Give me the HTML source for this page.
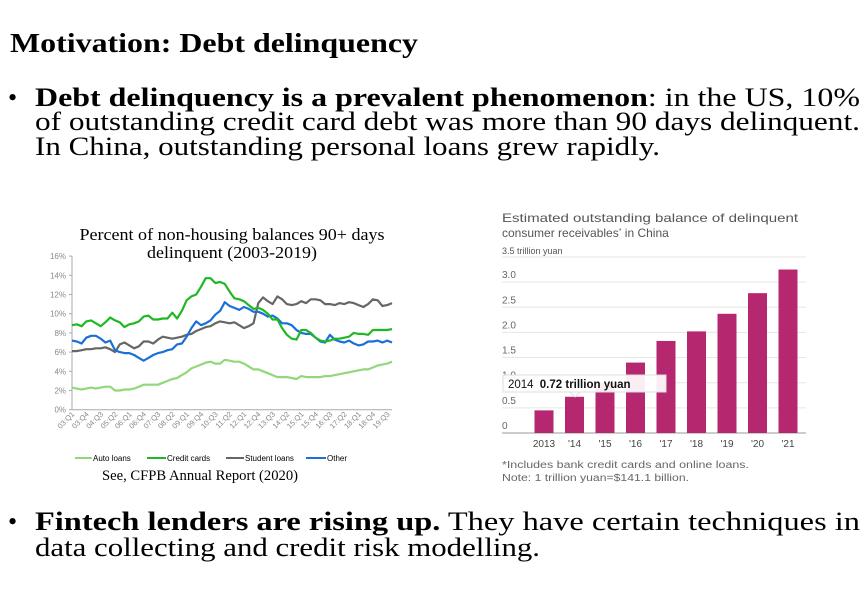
<!DOCTYPE html>
<html><head><meta charset="utf-8"><style>
html,body{margin:0;padding:0;background:#fff;}
svg{display:block;}
.ser{font-family:"Liberation Serif",serif;}
.san{font-family:"Liberation Sans",sans-serif;}
</style></head><body>
<svg id="s" width="865" height="600" xmlns="http://www.w3.org/2000/svg">
<text class="ser" x="10" y="52" font-size="27" font-weight="bold" textLength="408" lengthAdjust="spacingAndGlyphs">Motivation: Debt delinquency</text>
<text class="ser" x="8" y="106" font-size="26">•</text>
<text class="ser" x="35" y="106" font-size="26" textLength="825" lengthAdjust="spacingAndGlyphs"><tspan font-weight="bold">Debt delinquency is a prevalent phenomenon</tspan>: in the US, 10%</text>
<text class="ser" x="35" y="130" font-size="26" textLength="825" lengthAdjust="spacingAndGlyphs">of outstanding credit card debt was more than 90 days delinquent.</text>
<text class="ser" x="35" y="155" font-size="26" textLength="625" lengthAdjust="spacingAndGlyphs">In China, outstanding personal loans grew rapidly.</text>
<text class="ser" x="8" y="530" font-size="26">•</text>
<text class="ser" x="35" y="530" font-size="26" textLength="825" lengthAdjust="spacingAndGlyphs"><tspan font-weight="bold">Fintech lenders are rising up.</tspan> They have certain techniques in</text>
<text class="ser" x="35" y="556" font-size="26" textLength="505" lengthAdjust="spacingAndGlyphs">data collecting and credit risk modelling.</text>

<!-- left chart -->
<text class="ser" x="232" y="240" font-size="17" text-anchor="middle" textLength="305" lengthAdjust="spacingAndGlyphs">Percent of non-housing balances 90+ days</text>
<text class="ser" x="232" y="258" font-size="17" text-anchor="middle" textLength="170" lengthAdjust="spacingAndGlyphs">delinquent (2003-2019)</text>
<g id="lg"></g>
<g class="san" font-size="8">
<line x1="75" y1="458" x2="92" y2="458" stroke="#92d77a" stroke-width="2"/><text x="93" y="461">Auto loans</text>
<line x1="147" y1="458" x2="166" y2="458" stroke="#1fb824" stroke-width="2"/><text x="167" y="461">Credit cards</text>
<line x1="226" y1="458" x2="244" y2="458" stroke="#666" stroke-width="2"/><text x="245" y="461">Student loans</text>
<line x1="306" y1="458" x2="326" y2="458" stroke="#1a6fd8" stroke-width="2"/><text x="327" y="461">Other</text>
</g>
<text class="ser" x="200" y="480" font-size="15" text-anchor="middle" textLength="196" lengthAdjust="spacingAndGlyphs">See, CFPB Annual Report (2020)</text>

<!-- right chart -->
<text class="san" x="502" y="222" font-size="12" fill="#555" textLength="296" lengthAdjust="spacingAndGlyphs">Estimated outstanding balance of delinquent</text>
<text class="san" x="502" y="237" font-size="12" fill="#555">consumer receivables<tspan font-size="7" dy="-4">*</tspan><tspan dy="4"> in China</tspan></text>
<g id="rg"></g>
<text class="san" x="502" y="468" font-size="10" fill="#666" textLength="247" lengthAdjust="spacingAndGlyphs">*Includes bank credit cards and online loans.</text>
<text class="san" x="502" y="481" font-size="10" fill="#666" textLength="187" lengthAdjust="spacingAndGlyphs">Note: 1 trillion yuan=$141.1 billion.</text>
</svg>
<script>
var NS="http://www.w3.org/2000/svg";
function el(p,t,a,txt){var e=document.createElementNS(NS,t);for(var k in a)e.setAttribute(k,a[k]);if(txt!=null)e.textContent=txt;p.appendChild(e);return e;}
var lg=document.getElementById("lg");
var x0=72,x1=392,y0=409.7,ppu=9.6;
for(var v=0;v<=16;v+=2){var y=y0-v*ppu;el(lg,"text",{x:66,y:y+3,"font-size":8,fill:"#888","text-anchor":"end","font-family":"Liberation Sans"},v+"%");el(lg,"line",{x1:69,x2:72,y1:y,y2:y,stroke:"#aaa"});}
el(lg,"line",{x1:72,x2:72,y1:256,y2:y0,stroke:"#aaa"});
el(lg,"line",{x1:72,x2:392,y1:y0,y2:y0,stroke:"#aaa"});
var yrs=["03","04","05","06","07","08","09","10","11","12","13","14","15","16","17","18","19"];
var labs=[];for(var i=0;i<68;i+=3){labs.push([i,yrs[Math.floor(i/4)]+":Q"+(i%4+1)]);}
function X(i){return x0+i*(x1-x0)/67;}
labs.forEach(function(l){var x=X(l[0])+3,y=y0+5;el(lg,"text",{x:x,y:y,"font-size":7.5,fill:"#888","text-anchor":"end","font-family":"Liberation Sans",transform:"rotate(-45 "+x+" "+y+")"},l[1]);});
var S={
auto:[2.3,2.2,2.1,2.2,2.3,2.2,2.3,2.4,2.4,2.0,2.0,2.1,2.1,2.2,2.4,2.6,2.6,2.6,2.6,2.8,3.0,3.2,3.3,3.6,3.9,4.3,4.5,4.7,4.9,5.0,4.8,4.8,5.2,5.1,5.0,5.0,4.8,4.5,4.2,4.2,4.0,3.8,3.6,3.4,3.4,3.4,3.3,3.2,3.5,3.4,3.4,3.4,3.4,3.5,3.5,3.6,3.7,3.8,3.9,4.0,4.1,4.2,4.2,4.4,4.6,4.7,4.8,5.0],
stud:[6.1,6.1,6.2,6.3,6.3,6.4,6.4,6.5,6.3,6.0,6.8,7.0,6.7,6.4,6.6,7.1,7.1,6.9,7.3,7.6,7.5,7.4,7.5,7.6,7.8,7.9,8.2,8.4,8.6,8.7,9.0,9.2,9.1,9.0,9.1,8.8,8.5,8.7,9.0,11.1,11.7,11.3,11.0,11.8,11.5,11.0,10.9,11.0,11.3,11.1,11.5,11.5,11.4,11.0,11.0,10.9,11.1,11.0,11.2,11.1,10.9,10.7,11.0,11.5,11.4,10.8,10.9,11.1],
oth:[7.2,7.1,6.9,7.5,7.7,7.7,7.4,7.0,7.2,6.2,6.0,5.9,5.9,5.7,5.4,5.1,5.4,5.7,5.9,6.0,6.2,6.3,6.8,6.9,7.6,8.5,9.2,8.8,9.0,9.3,9.9,10.3,11.2,10.8,10.6,10.4,10.7,10.5,10.2,10.2,10.0,9.7,9.8,9.5,9.0,9.0,8.8,8.3,8.0,7.9,7.9,7.5,7.1,7.0,7.8,7.3,7.1,7.0,7.2,6.9,6.7,6.8,7.1,7.1,7.2,7.0,7.2,7.0],
cc:[8.8,8.9,8.7,9.2,9.3,9.0,8.7,9.1,9.6,9.3,9.1,8.6,8.9,9.0,9.2,9.7,9.8,9.4,9.4,9.5,9.5,10.1,9.5,10.3,11.4,11.8,12.0,12.8,13.7,13.7,13.2,13.3,13.1,12.3,11.6,11.5,11.3,10.9,10.5,10.6,10.4,10.0,9.4,9.4,8.5,7.8,7.4,7.3,8.3,8.3,8.0,7.5,7.2,7.1,7.2,7.4,7.4,7.5,7.6,8.0,7.9,7.9,7.8,8.3,8.3,8.3,8.3,8.4]};
[["auto","#92d77a"],["stud","#666"],["oth","#1a6fd8"],["cc","#1fb824"]].forEach(function(s){var d=S[s[0]],p=[];for(var i=0;i<d.length;i++)p.push(X(i).toFixed(1)+","+(y0-d[i]*ppu).toFixed(1));el(lg,"polyline",{points:p.join(" "),fill:"none",stroke:s[1],"stroke-width":2.2,"stroke-linejoin":"round"});});
var rg=document.getElementById("rg"),b0=433,u=50.3;
for(var k=0;k<=7;k++){var v=k*0.5,y=b0-v*u;el(rg,"line",{x1:502,x2:806,y1:y,y2:y,stroke:k==0?"#999":"#e6e6e6","stroke-width":1});
 var t=k==0?"0":(k==7?"3.5":v.toFixed(1));
 if(k==7){el(rg,"text",{x:502,y:y-3,"font-size":9,fill:"#555","font-family":"Liberation Sans"},"3.5 trillion yuan");}
 else el(rg,"text",{x:502,y:y-4,"font-size":10,fill:"#666","font-family":"Liberation Sans"},t);}
var vals=[0.45,0.72,1.0,1.4,1.83,2.02,2.37,2.78,3.25],lb=["2013","'14","'15","'16","'17","'18","'19","'20","'21"];
vals.forEach(function(v,i){var c=544+i*30.5;el(rg,"rect",{x:c-9.5,y:b0-v*u,width:19,height:v*u,fill:"#b5276f"});el(rg,"text",{x:c,y:b0+14,"font-size":10,fill:"#444","text-anchor":"middle","font-family":"Liberation Sans"},lb[i]);});
el(rg,"rect",{x:503,y:375,width:163,height:17,fill:"#fff","fill-opacity":0.92,stroke:"#ddd"});
el(rg,"path",{d:"M570 392 L575 397 L580 392 Z",fill:"#fff",stroke:"#ddd"});
var t=el(rg,"text",{x:508,y:388,"font-size":11.5,fill:"#111","font-family":"Liberation Sans"},"2014 ");
el(t,"tspan",{"font-weight":"bold",dx:3},"0.72 trillion yuan");
</script>
</body></html>
